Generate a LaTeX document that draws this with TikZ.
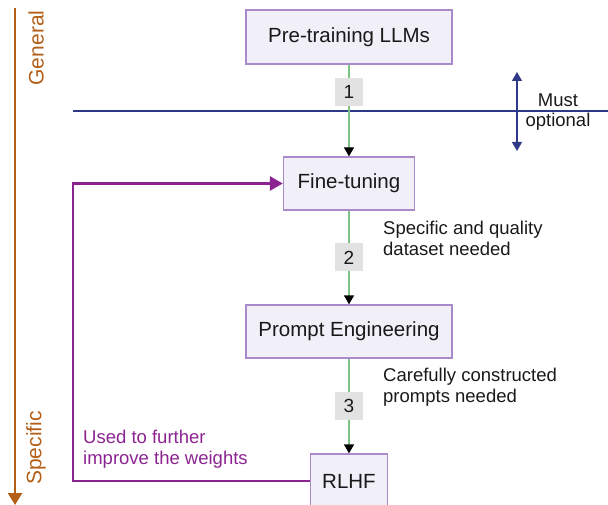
\documentclass[tikz,border=0pt]{standalone}
\usepackage{fontspec}
\setmainfont{Liberation Sans}
\usetikzlibrary{arrows.meta}
\definecolor{boxfill}{HTML}{F1EFF8}
\definecolor{boxdraw}{HTML}{A88BC8}
\definecolor{flowgreen}{HTML}{7DC383}
\definecolor{numgray}{HTML}{E2E2E2}
\definecolor{navy}{HTML}{2E3A87}
\definecolor{fbpurple}{HTML}{8B2490}
\definecolor{axisorange}{HTML}{B35F18}
\tikzset{
  stagebox/.style={draw=boxdraw, line width=1.3pt, fill=boxfill, inner sep=0pt,
    font=\fontsize{20.5}{24}\selectfont, text=black!90},
  numbox/.style={fill=numgray, minimum width=28pt, minimum height=28pt, inner sep=0pt,
    font=\fontsize{19}{22}\selectfont, text=black!90},
  flow/.style={draw=flowgreen, line width=1.3pt, -{Triangle[length=9pt,width=10pt,color=black]}},
  note/.style={align=left, inner sep=0pt, font=\fontsize{18.5}{21}\selectfont, text=black!90},
  fb/.style={draw=fbpurple, line width=2.6pt, -{Triangle[length=13pt,width=14pt]}},
  axis/.style={draw=axisorange, line width=2.4pt, -{Triangle[length=12pt,width=14pt]}},
  axislabel/.style={rotate=90, inner sep=0pt, text=axisorange, font=\fontsize{21}{24}\selectfont},
}
\begin{document}
\begin{tikzpicture}[x=1pt,y=-1pt]
\useasboundingbox (0,0) rectangle (608,505);
% axis
\coordinate (axtop) at (15,8);
\coordinate (axbot) at (15,505);
\draw[axis] (axtop) -- (axbot);
\node[axislabel, anchor=center] (gen) at (36,48) {General};
\node[axislabel, anchor=center] (spec) at (36,448) {Specific};
% stages
\node[stagebox, minimum width=206pt, minimum height=54pt] (pre) at (349,37) {Pre-training LLMs};
\node[stagebox, minimum width=131pt, minimum height=53pt] (fine) at (349,183.5) {Fine-tuning};
\node[stagebox, minimum width=206pt, minimum height=53pt] (prompt) at (349,331.5) {Prompt Engineering};
\node[stagebox, minimum width=77pt, minimum height=54pt] (rlhf) at (349,481) {RLHF};
% must/optional line
\coordinate (hl) at (73,111);
\coordinate (hr) at (608,111);
\draw[navy, line width=1.3pt] (hl) -- (hr);
% flows
\draw[flow] (pre.south) -- node[numbox, pos=0.3] (n1) {1} (fine.north);
\draw[flow] (fine.south) -- node[numbox, pos=0.5] (n2) {2} (prompt.north);
\draw[flow] (prompt.south) -- node[numbox, pos=0.5] (n3) {3} (rlhf.north);
% double arrow
\coordinate (dat) at (517,72);
\coordinate (dab) at (517,151);
\draw[navy, line width=1.3pt, {Triangle[length=9pt,width=10pt]}-{Triangle[length=9pt,width=10pt]}] (dat) -- (dab);
\node[note, anchor=center] (must) at (558,100) {Must};
\node[note, anchor=center] (opt) at (558,122) {optional};
% notes
\node[note, anchor=west] (note2) at (383,238.5) {Specific and quality\\dataset needed};
\node[note, anchor=west] (note3) at (383,387.5) {Carefully constructed\\prompts needed};
\node[note, anchor=west, text=fbpurple] (note4) at (83,449.5) {Used to further\\improve the weights};
% feedback
\coordinate (fbc) at (73,481);
\draw[fb] (rlhf.west) -- (fbc) |- (fine.west);
\end{tikzpicture}
\end{document}
